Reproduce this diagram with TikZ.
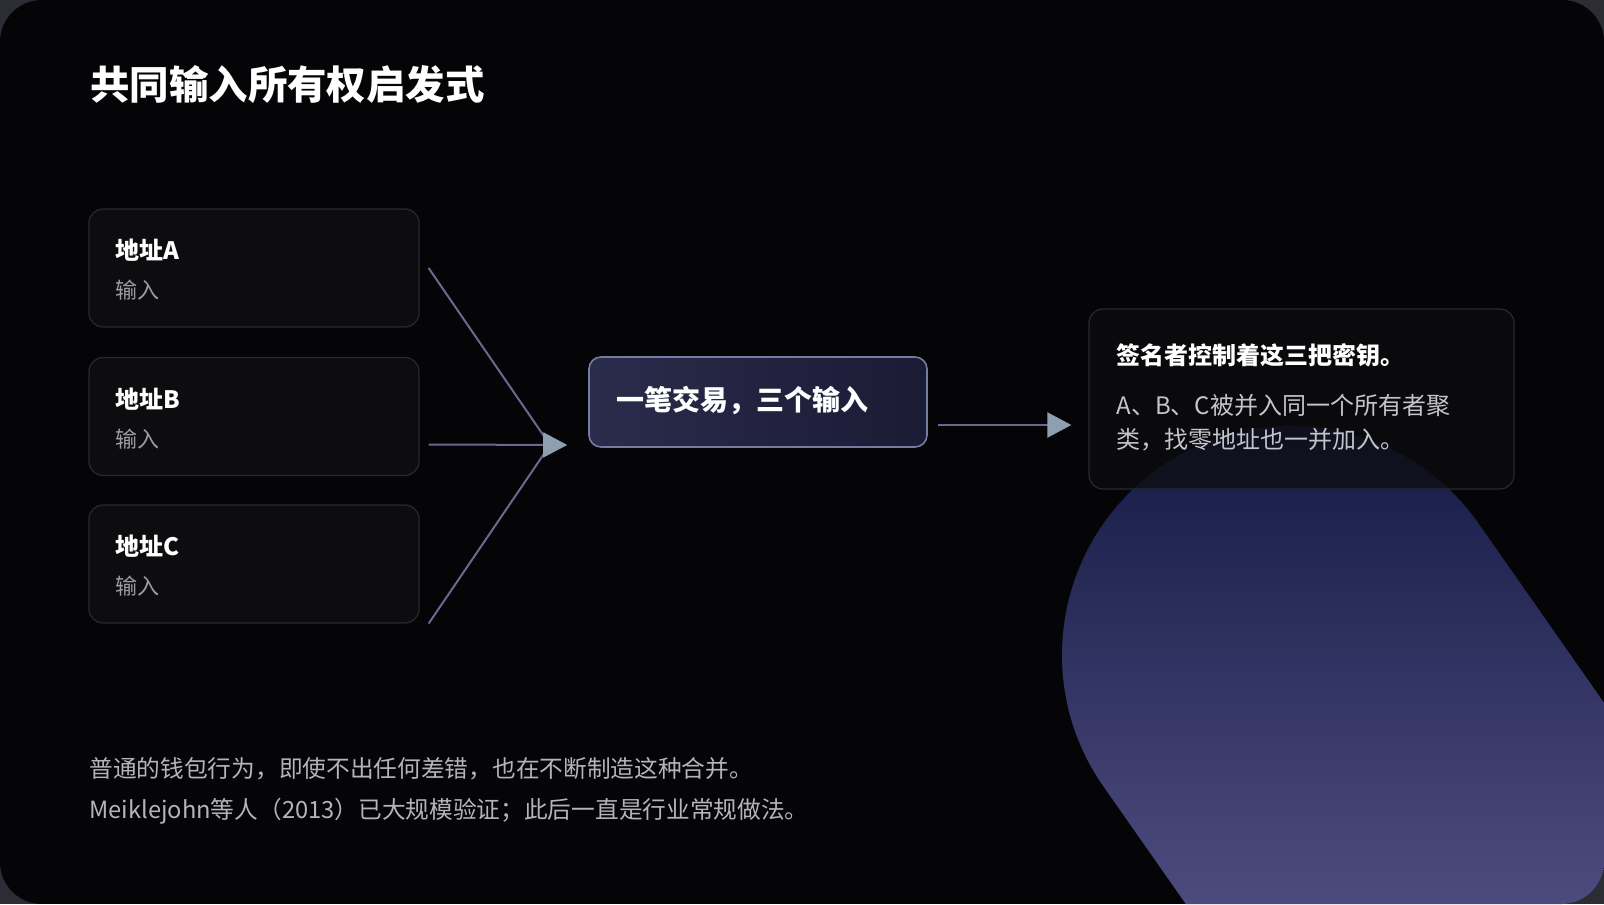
\documentclass[tikz,border=0pt]{standalone}
\usepackage{fontspec}
\newfontfamily\cjk{Noto Sans CJK SC}
\usetikzlibrary{calc, arrows.meta, positioning}
\definecolor{outerbg}{HTML}{2C2C34}
\definecolor{slidebg}{HTML}{050507}
\definecolor{boxfill}{HTML}{0D0D10}
\definecolor{boxline}{HTML}{29292E}
\definecolor{hubleft}{HTML}{2B2B4C}
\definecolor{hubright}{HTML}{1B1B35}
\definecolor{hubline}{HTML}{747C9F}
\definecolor{linkcol}{HTML}{6A6890}
\definecolor{tipcol}{HTML}{8D9FB1}
\definecolor{subgray}{HTML}{9C9CA4}
\definecolor{bodygray}{HTML}{C4C4CC}
\definecolor{notegray}{HTML}{B4B4BC}
\definecolor{blobtop}{HTML}{141A44}
\definecolor{blobbot}{HTML}{4D4B7E}

\begin{document}
\begin{tikzpicture}[x=0.5pt,y=-0.5pt,
    card/.style={draw=boxline,line width=0.6pt,fill=boxfill,rounded corners=7pt,inner sep=0pt},
    txt/.style={anchor=west,inner sep=0pt,align=left},
    link/.style={draw=linkcol,line width=1pt},
    tip/.style={-{Triangle[length=12pt,width=12.5pt,color=tipcol]}}]
    \useasboundingbox (0,0) rectangle (1604,904);
    % slide and blob
    \fill[outerbg] (0,0) rectangle (1604,904);
    \begin{scope}
        \clip[rounded corners=21pt] (0,0) rectangle (1604,904);
        \fill[slidebg] (0,0) rectangle (1604,904);
        \clip (1291,655) ++(145:229) arc[start angle=145,end angle=325,radius=229]
            -- ++(55:700) -- ++(145:458) -- cycle;
        \shade[top color=blobtop,bottom color=blobbot] (1030,420) rectangle (1604,904);
    \end{scope}

    \node[txt,text=white,font=\cjk\bfseries\fontsize{19.7}{24}\selectfont] (title) at (90,85) {共同输入所有权启发式};

    % address cards
    \foreach \n/\y in {A/268,B/416.5,C/564}{
        \node[card,minimum width=165pt,minimum height=59pt] (box\n) at (254,\y) {};
        \node[txt,text=white,font=\cjk\bfseries\fontsize{12}{14}\selectfont] (lab\n) at ($(box\n.north west)+(27,42)$) {地址\n};
        \node[txt,text=subgray,font=\cjk\fontsize{11}{13}\selectfont] (sub\n) at ($(box\n.north west)+(27,82)$) {输入};
    }

    % transaction
    \node[card,draw=hubline,line width=0.8pt,rounded corners=6pt,left color=hubleft,right color=hubright,
        minimum width=169pt,minimum height=45pt] (hub) at (758,402) {};
    \node[txt,text=white,font=\cjk\bfseries\fontsize{14}{16}\selectfont] (hubtxt) at (616,400) {一笔交易，三个输入};

    % signer
    \node[card,fill opacity=0.75,minimum width=212.5pt,minimum height=90pt] (keys) at (1301.5,399) {};
    \node[txt,text=white,font=\cjk\bfseries\fontsize{12}{14}\selectfont] (keyshead) at (1116,355) {签名者控制着这三把密钥。};
    \node[txt,text=bodygray,font=\cjk\fontsize{12}{17}\selectfont] (keysbody) at (1116,423) {A、B、C被并入同一个所有者聚\\类，找零地址也一并加入。};

    % links
    \coordinate (join) at (550,445);
    \draw[link] ($(boxA.east)+(9,0)$) -- (join);
    \draw[link] ($(boxC.south east)+(9,0)$) -- (join);
    \draw[link,tip] ($(boxB.east)+(9,28)$) -- ($(hub.west)+(-21,43)$);
    \draw[link,tip] ($(hub.east)+(10,23)$) -- ($(keys.west)+(-17,26)$);

    \node[txt,text=notegray,font=\cjk\fontsize{11.85}{20.5}\selectfont] (note) at (89,791) {普通的钱包行为，即使不出任何差错，也在不断制造这种合并。\\Meiklejohn等人（2013）已大规模验证；此后一直是行业常规做法。};
\end{tikzpicture}
\end{document}
